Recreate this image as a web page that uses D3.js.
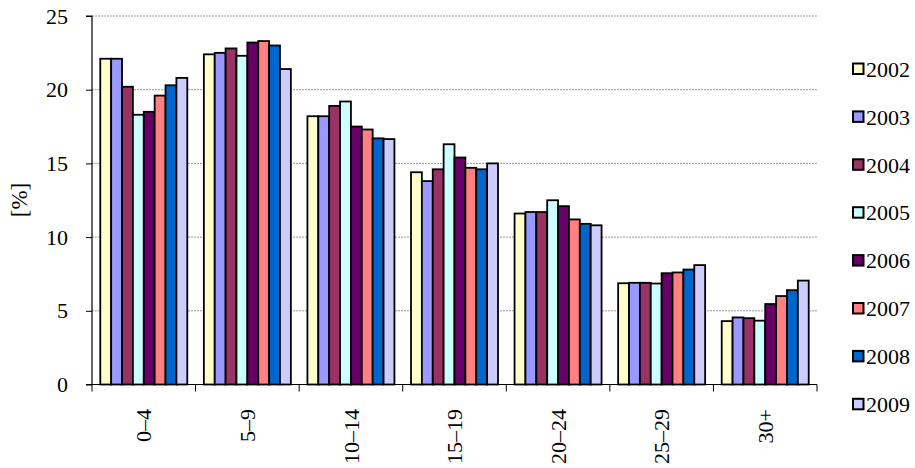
<!DOCTYPE html>
<html>
<head>
<meta charset="utf-8">
<script src="https://cdn.jsdelivr.net/npm/d3@7"></script>
<style>
  body { margin: 0; background: #fff; }
  svg { display: block; }
  .grid line { stroke: #999; stroke-dasharray: 2,1; }
</style>
</head>
<body>
<svg id="chart" width="915" height="468"></svg>
<script>
const categories = ["0\u20134", "5\u20139", "10\u201314", "15\u201319", "20\u201324", "25\u201329", "30+"];
const years = ["2002", "2003", "2004", "2005", "2006", "2007", "2008", "2009"];
const colors = ["#FFFFCC", "#9999FF", "#993366", "#CCFFFF", "#660066", "#FF8080", "#0066CC", "#CCCCFF"];

// one array per year, values per age group
const v2002 = [22.1, 22.4, 18.2, 14.4, 11.6, 6.87, 4.3];
const v2003 = [22.1, 22.5, 18.2, 13.8, 11.7, 6.9, 4.55];
const v2004 = [20.2, 22.8, 18.9, 14.6, 11.7, 6.9, 4.5];
const v2005 = [18.3, 22.3, 19.2, 16.3, 12.5, 6.85, 4.33];
const v2006 = [18.5, 23.2, 17.5, 15.4, 12.1, 7.55, 5.46];
const v2007 = [19.6, 23.3, 17.3, 14.7, 11.2, 7.6, 6.0];
const v2008 = [20.3, 23.0, 16.7, 14.6, 10.9, 7.8, 6.4];
const v2009 = [20.8, 21.4, 16.65, 15.0, 10.8, 8.1, 7.05];
const series = [v2002, v2003, v2004, v2005, v2006, v2007, v2008, v2009];
const yTicks = [0, 5, 10, 15, 20, 25];

const FONT = "Liberation Serif";
const svg = d3.select("#chart");
const mLeft = 92, mRight = 817, mTop = 16, mBottom = 384.5;

const x = d3.scaleBand().domain(categories).range([mLeft, mRight]).paddingInner(0).paddingOuter(0);
const groupPad = 0.16;
const xi = d3.scaleBand().domain(years)
    .range([x.bandwidth() * groupPad / 2, x.bandwidth() * (1 - groupPad / 2)]);
const y = d3.scaleLinear().domain([0, 25]).range([mBottom, mTop]);

// grid
svg.append("g").attr("class", "grid")
    .selectAll("line").data(yTicks.filter(d => d > 0)).join("line")
    .attr("x1", mLeft).attr("x2", mRight)
    .attr("y1", d => y(d)).attr("y2", d => y(d));

// bars
const groups = svg.append("g").selectAll("g").data(categories).join("g")
    .attr("transform", d => `translate(${x(d)},0)`);
groups.selectAll("rect")
    .data((c, ci) => years.map((yr, si) => ({ yr, si, v: series[si][ci] })))
    .join("rect")
    .attr("x", d => xi(d.yr))
    .attr("width", xi.bandwidth())
    .attr("y", d => y(d.v))
    .attr("height", d => y(0) - y(d.v))
    .attr("fill", d => colors[d.si])
    .attr("stroke", "#000")
    .attr("stroke-width", 1.8);

// y axis
const yAxis = svg.append("g").attr("transform", `translate(${mLeft},0)`)
    .call(d3.axisLeft(y).tickValues(yTicks).tickSize(6).tickPadding(18));
yAxis.attr("font-family", FONT).attr("font-size", 22);
yAxis.selectAll("text").attr("font-family", FONT).attr("font-size", 22).attr("fill", "#000");
yAxis.select(".domain").attr("stroke", "#000").attr("stroke-width", 1.2).attr("d", `M-6,${mTop}H0V${mBottom}`);
yAxis.selectAll(".tick line").attr("stroke", "#000");

// x axis
const xAxis = svg.append("g").attr("transform", `translate(0,${mBottom})`);
xAxis.append("line").attr("x1", mLeft - 6).attr("x2", mRight).attr("stroke", "#000").attr("stroke-width", 1.2);
const bounds = categories.map(c => x(c)).concat([mRight]);
xAxis.selectAll("line.tk").data(bounds).join("line").attr("class", "tk")
    .attr("x1", d => d).attr("x2", d => d).attr("y1", 0).attr("y2", 7)
    .attr("stroke", "#000");
svg.append("g").selectAll("text").data(categories).join("text")
    .attr("transform", d => `translate(${x(d) + x.bandwidth() / 2},409) rotate(-90)`)
    .attr("text-anchor", "end")
    .attr("dy", "0.35em")
    .attr("font-family", FONT)
    .attr("font-size", 22)
    .text(d => d);

// y label
svg.append("text")
    .attr("transform", "translate(19,200) rotate(-90)")
    .attr("text-anchor", "middle")
    .attr("dy", "0.35em")
    .attr("font-family", FONT)
    .attr("font-size", 23)
    .text("[%]");

// legend
const legend = svg.append("g").selectAll("g").data(years).join("g")
    .attr("transform", (d, i) => `translate(853,${69 + i * 47.9})`);
legend.append("rect")
    .attr("x", 0).attr("y", -5.5).attr("width", 10.5).attr("height", 10.5)
    .attr("fill", (d, i) => colors[i]).attr("stroke", "#000").attr("stroke-width", 2);
legend.append("text")
    .attr("x", 13).attr("dy", "0.35em")
    .attr("font-family", FONT)
    .attr("font-size", 22)
    .text(d => d);
</script>
</body>
</html>
